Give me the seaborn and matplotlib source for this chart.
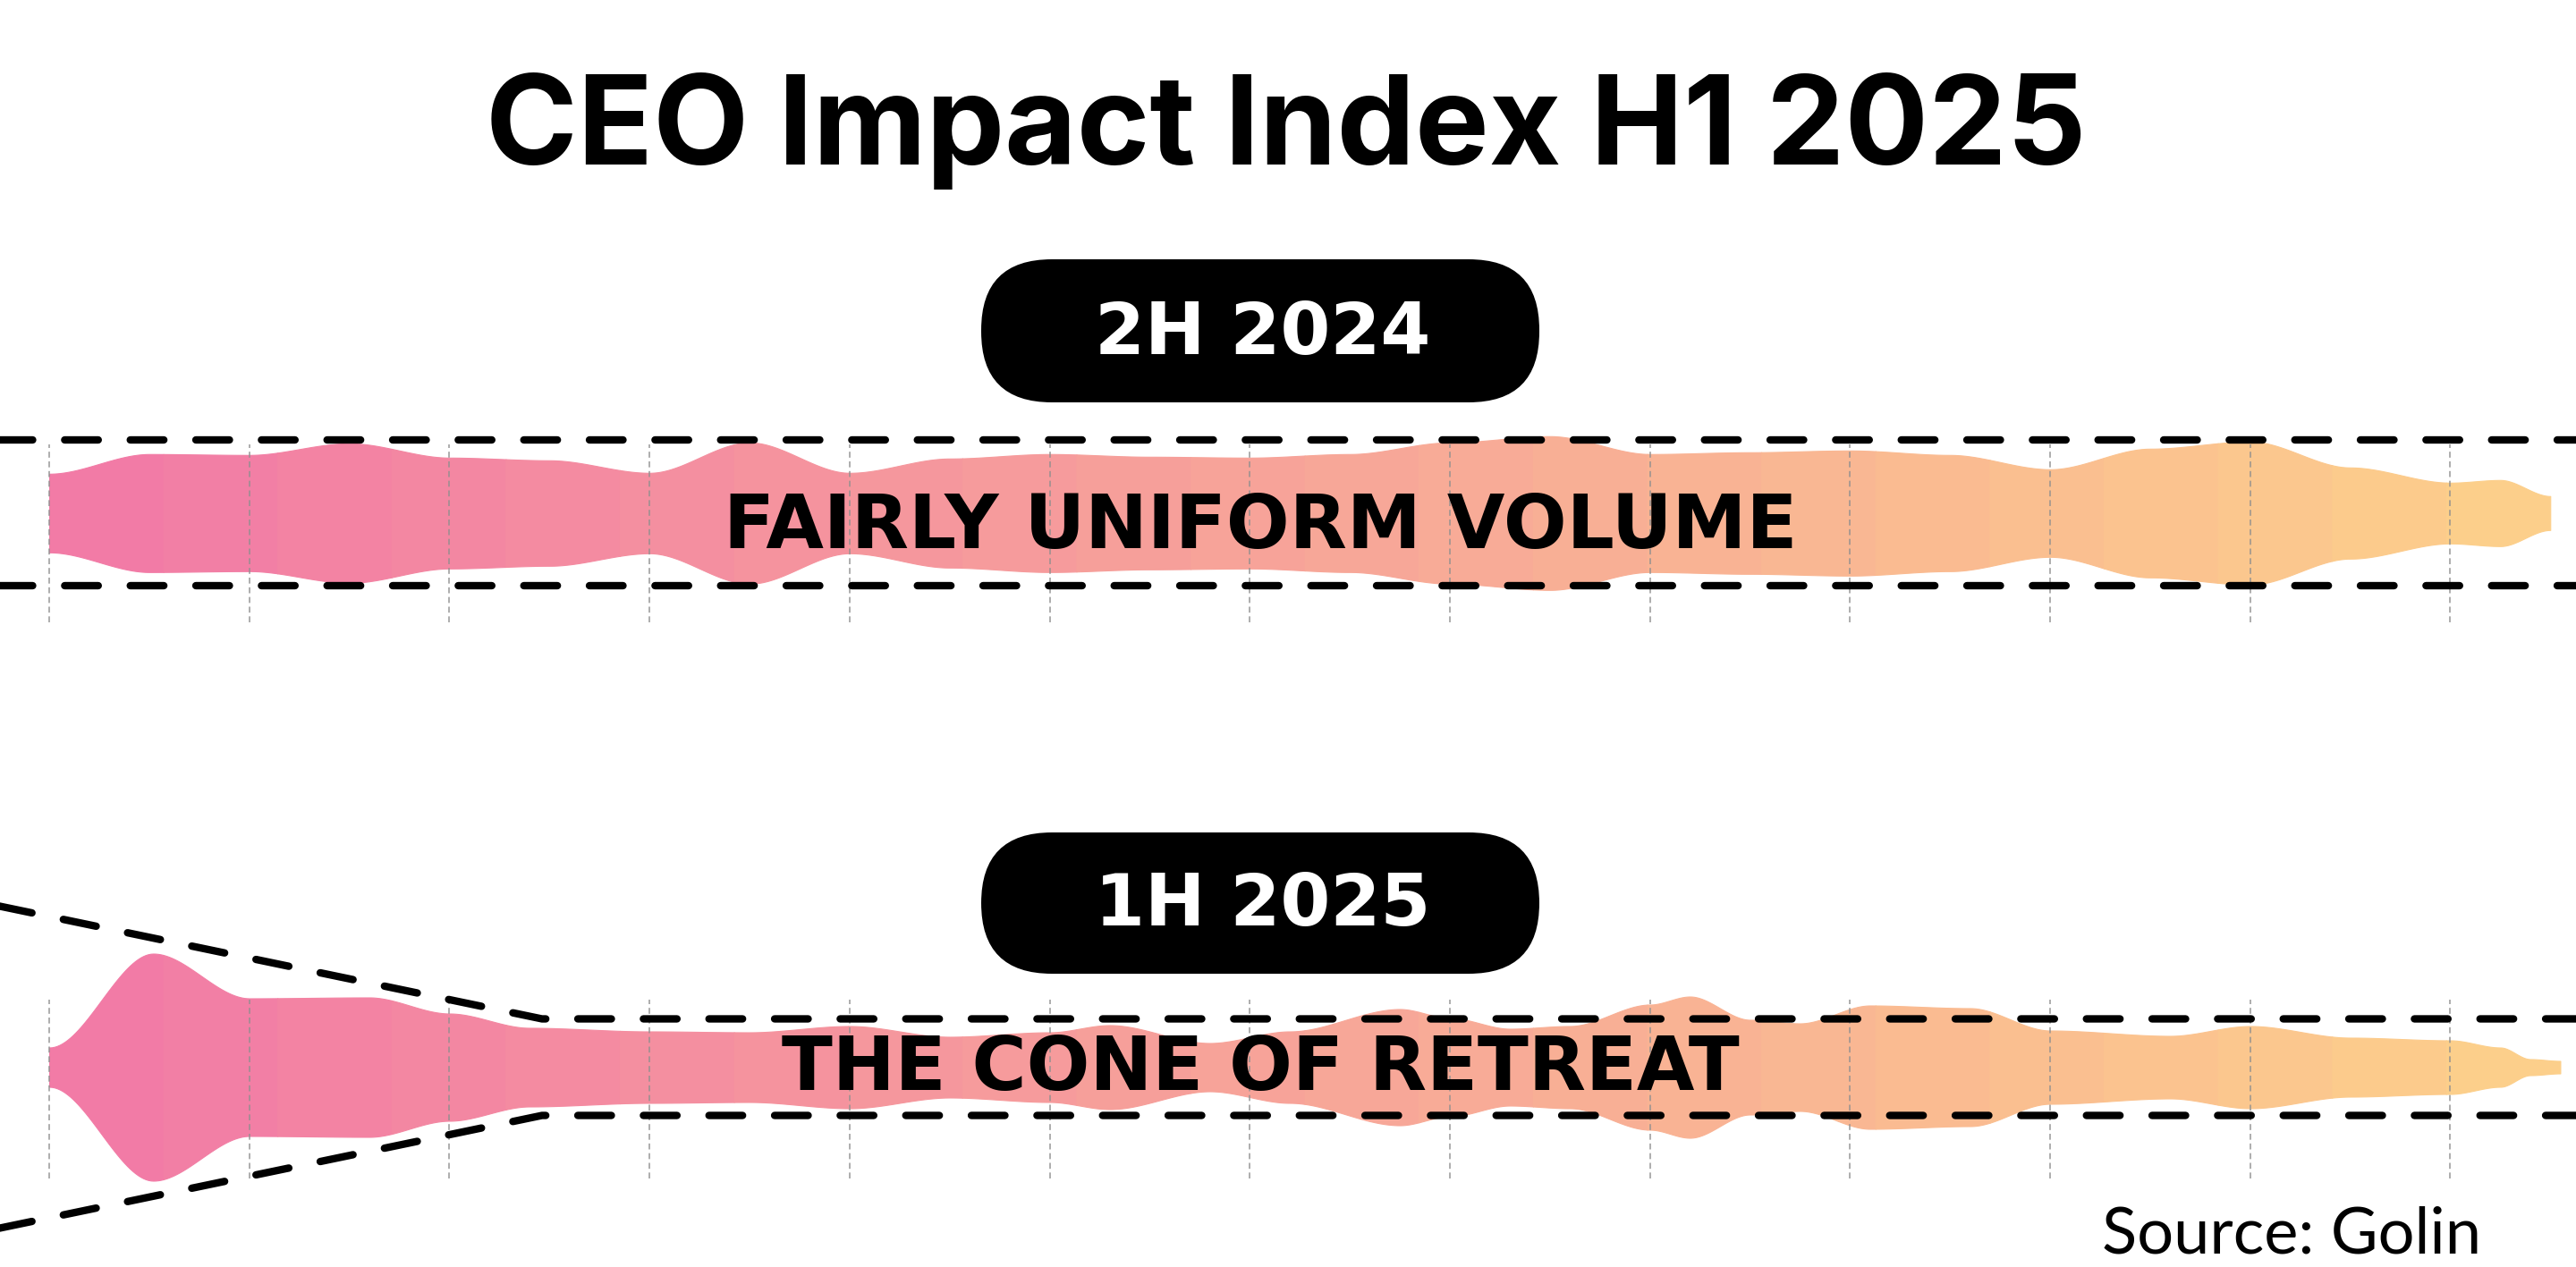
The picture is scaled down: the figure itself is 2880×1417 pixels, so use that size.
import numpy as np
import matplotlib
matplotlib.use("Agg")
import matplotlib.pyplot as plt
from matplotlib.patches import FancyBboxPatch
import seaborn as sns

# stream half-width (volume), x = time step (one per gray line)
t_2h2024 = [0, 0.5, 1, 1.5, 2, 2.5, 3, 3.5, 4, 4.5, 5, 5.5, 6, 6.5, 7, 7.5,
            8, 8.5, 9, 9.5, 10, 10.5, 11, 11.5, 12, 12.25, 12.5]
vol_2h2024 = [44, 66, 65, 78, 62, 59, 45, 79, 45, 61, 66, 63, 62, 66, 79, 86,
              66, 68, 70, 65, 49, 72, 80, 51, 34, 37, 19]

t_1h2025 = [0, 0.52, 1, 1.6, 2, 2.4, 3, 3.5, 4, 4.5, 5, 5.3, 5.8, 6.2, 6.75, 7,
            7.3, 7.6, 8, 8.2, 8.5, 8.75, 9.1, 9.6, 10, 10.6, 11, 11.5, 12,
            12.25, 12.4, 12.55]
vol_1h2025 = [22, 127, 77, 78, 60, 44, 40, 39, 46, 34, 39, 47, 27, 40, 65, 55,
              43, 46, 70, 79, 53, 49, 69, 66, 41, 35, 46, 33, 30,
              22, 9, 7]

grid_steps = list(range(13))
period_labels = ["2H 2024", "1H 2025"]
stream_labels = ["FAIRLY UNIFORM VOLUME", "THE CONE OF RETREAT"]

W, H = 2880, 1417
PX_PER_STEP = 223.7
X0 = 55
xlim = (-X0 / PX_PER_STEP, (W - X0) / PX_PER_STEP)

sns.set_theme(style="white")
plt.rcParams['font.family'] = ['DejaVu Sans']

pal = sns.blend_palette(["#F27BA6", "#FCCF8B"], 22)


def smooth_outline(t, v, n=40):
    xs, ys = [], []
    for i in range(len(t) - 1):
        s = np.linspace(0, 1, n, endpoint=False)
        w = 3 * s**2 - 2 * s**3
        xs.append(t[i] + (t[i + 1] - t[i]) * s)
        ys.append(v[i] + (v[i + 1] - v[i]) * w)
    xs.append([t[-1]])
    ys.append([v[-1]])
    return np.concatenate(xs), np.concatenate(ys)


def draw_stream(ax, t, v):
    xs, ys = smooth_outline(t, v)
    edges = np.linspace(0, 12.55, len(pal) + 1)
    for i, c in enumerate(pal):
        a, b = edges[i], min(edges[i + 1], xs[-1])
        if a >= xs[-1]:
            break
        m = (xs > a) & (xs < b)
        xx = np.concatenate([[a], xs[m], [b]])
        yy = np.interp(xx, xs, ys)
        ax.fill_between(xx, -yy, yy, color=c, lw=0.8, edgecolor=c, zorder=2)


def setup(ax, half):
    ax.set_xlim(*xlim)
    ax.set_ylim(-half, half)
    ax.set_axis_off()
    ax.patch.set_alpha(0)


fig = plt.figure(figsize=(W / 100, H / 100), dpi=100)

band = dict(color="black", lw=6, linestyle=(0, (4.5, 4.3)),
            dash_capstyle="round", solid_joinstyle="round", zorder=4)
vgrid = dict(color="#8f8f8f", lw=1.2, linestyle=(0, (4, 2.5)), alpha=0.85, zorder=3)

# top stream
c1 = 573.8
ax1 = fig.add_axes([0, (H - c1 - 150) / H, 1, 300 / H])
setup(ax1, 150)
draw_stream(ax1, t_2h2024, vol_2h2024)
ax1.vlines(grid_steps, -122, 77, **vgrid)
for y in (81.5, -81.5):
    ax1.plot([xlim[0] - 0.1, xlim[1] + 0.1], [y, y], **band)

# bottom stream
c2 = 1193.5
ax2 = fig.add_axes([0, (H - c2 - 205) / H, 1, 410 / H])
setup(ax2, 205)
draw_stream(ax2, t_1h2025, vol_1h2025)
ax2.vlines(grid_steps, -124.5, 75.5, **vgrid)
cone_x = [xlim[0] - 0.06, 2.463, xlim[1] + 0.1]
cone_y = [54 + 46.5 * (2.463 - cone_x[0]), 54, 54]
ax2.plot(cone_x, cone_y, **band)
ax2.plot(cone_x, [-y for y in cone_y], **band)

# overlay: title, pills, labels, source
ov = fig.add_axes([0, 0, 1, 1])
ov.set_xlim(0, W)
ov.set_ylim(H, 0)
ov.set_axis_off()
ov.patch.set_alpha(0)

ov.text(1438, 184, "CEO Impact Index H1 2025", ha="center", va="baseline",
        fontsize=100, fontweight="bold", family=["Inter", "DejaVu Sans"], color="black")

for (y0, hgt, base), lab in zip([(290, 160, 396), (931, 158, 1035)], period_labels):
    ov.add_patch(FancyBboxPatch((1097, y0), 624, hgt,
                                boxstyle="round,pad=0,rounding_size=79",
                                fc="black", ec="none", zorder=5))
    ov.text(1412, base, lab, ha="center", va="baseline", color="white",
            fontsize=58, fontweight="bold", zorder=6)

for base, lab in zip([613, 1219], stream_labels):
    ov.text(1409, base, lab, ha="center", va="baseline", color="black",
            fontsize=60, fontweight="bold", zorder=6)

ov.text(2774, 1402, "Source: Golin", ha="right", va="baseline", color="black",
        fontsize=52, fontweight="normal", family=["Lato", "DejaVu Sans"])

fig.savefig("out.png", dpi=100)
